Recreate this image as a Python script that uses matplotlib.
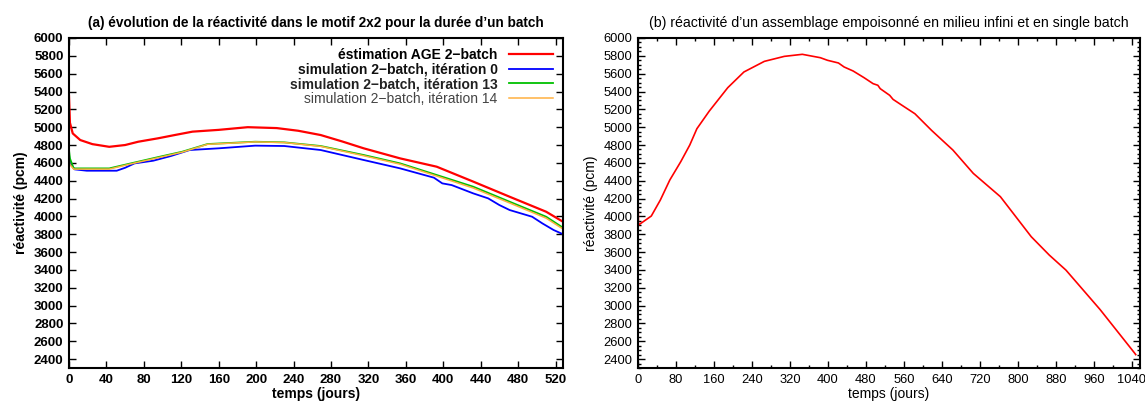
import matplotlib
matplotlib.use("Agg")
import matplotlib.pyplot as plt
from matplotlib.ticker import MultipleLocator

plt.rcParams['font.family'] = ['Liberation Sans', 'DejaVu Sans']

# ---- panel (a) data ----
red_days = [0, 1, 4, 12, 25, 43, 60, 74, 95, 113, 132, 160, 191, 222, 245, 269, 292, 315, 354, 393, 432, 471, 510, 528]
red_vals = [5350, 5050, 4930, 4856, 4810, 4780, 4800, 4837, 4875, 4912, 4950, 4970, 5000, 4990, 4960, 4912, 4840, 4763, 4650, 4557, 4390, 4220, 4052, 3940]

blue_days = [0, 1, 6, 19, 51, 60, 70, 90, 109, 129, 160, 199, 230, 269, 315, 354, 390, 399, 409, 432, 448, 460, 471, 495, 506, 518, 528]
blue_vals = [4690, 4600, 4527, 4512, 4512, 4545, 4594, 4624, 4677, 4744, 4763, 4793, 4789, 4744, 4632, 4538, 4434, 4370, 4351, 4258, 4202, 4127, 4071, 3996, 3921, 3847, 3800]

green_days = [0, 1, 5, 43, 66, 97, 121, 148, 199, 230, 269, 315, 354, 393, 432, 471, 510, 528]
green_vals = [4744, 4650, 4538, 4538, 4594, 4669, 4725, 4811, 4837, 4830, 4789, 4688, 4594, 4464, 4333, 4164, 3996, 3873]

orange_days = [0, 1, 5, 43, 66, 97, 121, 148, 199, 230, 269, 315, 354, 393, 432, 471, 510, 528]
orange_vals = [4620, 4580, 4530, 4530, 4588, 4662, 4720, 4808, 4835, 4828, 4785, 4680, 4585, 4452, 4318, 4150, 3980, 3858]

# ---- panel (b) data ----
b_days = [0, 1, 28, 47, 67, 90, 109, 124, 150, 189, 223, 266, 308, 346, 384, 399, 422, 434, 453, 476, 495, 505, 510, 530, 537, 556, 583, 618, 644, 663, 706, 763, 828, 866, 901, 973, 1046, 1048]
b_vals = [4258, 3903, 4004, 4183, 4408, 4613, 4800, 4983, 5180, 5443, 5619, 5738, 5794, 5817, 5779, 5750, 5720, 5675, 5630, 5555, 5488, 5470, 5432, 5357, 5312, 5245, 5151, 4965, 4837, 4744, 4482, 4221, 3772, 3566, 3398, 2955, 2465, 2450]

fig = plt.figure(figsize=(11.45, 4.03), dpi=100)
ax1 = fig.add_axes([69/1145, 1 - 368/403, (563 - 69)/1145, (368 - 38)/403])
ax2 = fig.add_axes([638/1145, 1 - 368/403, (1140 - 638)/1145, (368 - 38)/403])

# panel (a)
ax1.plot(red_days, red_vals, color='#ff0000', lw=1.6, label='éstimation AGE 2\u2212batch')
ax1.plot(blue_days, blue_vals, color='#0000ff', lw=1.3, label='simulation 2\u2212batch, itération 0')
ax1.plot(green_days, green_vals, color='#00c000', lw=1.3, label='simulation 2\u2212batch, itération 13')
ax1.plot(orange_days, orange_vals, color='#ffb040', lw=1.1, label='simulation 2\u2212batch, itération 14')
ax1.set_xlim(0, 528)
ax1.set_ylim(2300, 6000)
ax1.xaxis.set_major_locator(MultipleLocator(40))
ax1.yaxis.set_major_locator(MultipleLocator(200))
ax1.tick_params(which='both', direction='in', top=True, right=True, length=5, width=1, labelsize=9.5, pad=4)
for lbl in ax1.get_xticklabels() + ax1.get_yticklabels():
    lbl.set_fontweight('bold')
ax1.set_xlabel('temps (jours)', fontsize=10, fontweight='bold', labelpad=1)
ax1.set_ylabel('réactivité (pcm)', fontsize=10, fontweight='bold', labelpad=4)
ax1.set_title("(a) évolution de la réactivité dans le motif 2x2 pour la durée d\u2019un batch", fontsize=9.8, fontweight='bold', pad=8)
leg = ax1.legend(loc='upper right', frameon=False, markerfirst=False, fontsize=10, handlelength=3.2,
                 handletextpad=0.8, labelspacing=0.05, borderaxespad=0.3)
texts = leg.get_texts()
weights = ['bold', 'semibold', 'semibold', 'normal']
colors = ['black', '#111111', '#222222', '#444444']
for t, w, c in zip(texts, weights, colors):
    t.set_fontweight(w)
    t.set_color(c)
for sp in ax1.spines.values():
    sp.set_linewidth(1.5)

# panel (b)
ax2.plot(b_days, b_vals, color='#ff0000', lw=1.2)
ax2.set_xlim(0, 1057)
ax2.set_ylim(2300, 6000)
ax2.xaxis.set_major_locator(MultipleLocator(80))
ax2.xaxis.set_minor_locator(MultipleLocator(40))
ax2.yaxis.set_major_locator(MultipleLocator(200))
ax2.yaxis.set_minor_locator(MultipleLocator(50))
ax2.tick_params(which='major', direction='in', top=True, right=True, length=5, width=1, labelsize=9.3, pad=4)
ax2.tick_params(which='minor', direction='in', top=True, right=True, length=2.5, width=1)
ax2.set_xlabel('temps (jours)', fontsize=10, labelpad=1)
ax2.set_ylabel('réactivité (pcm)', fontsize=10, labelpad=4)
ax2.set_title("(b) réactivité d\u2019un assemblage empoisonné en milieu infini et en single batch", fontsize=10.2, pad=8)
for sp in ax2.spines.values():
    sp.set_linewidth(1.5)

fig.savefig('out.png', dpi=100)
